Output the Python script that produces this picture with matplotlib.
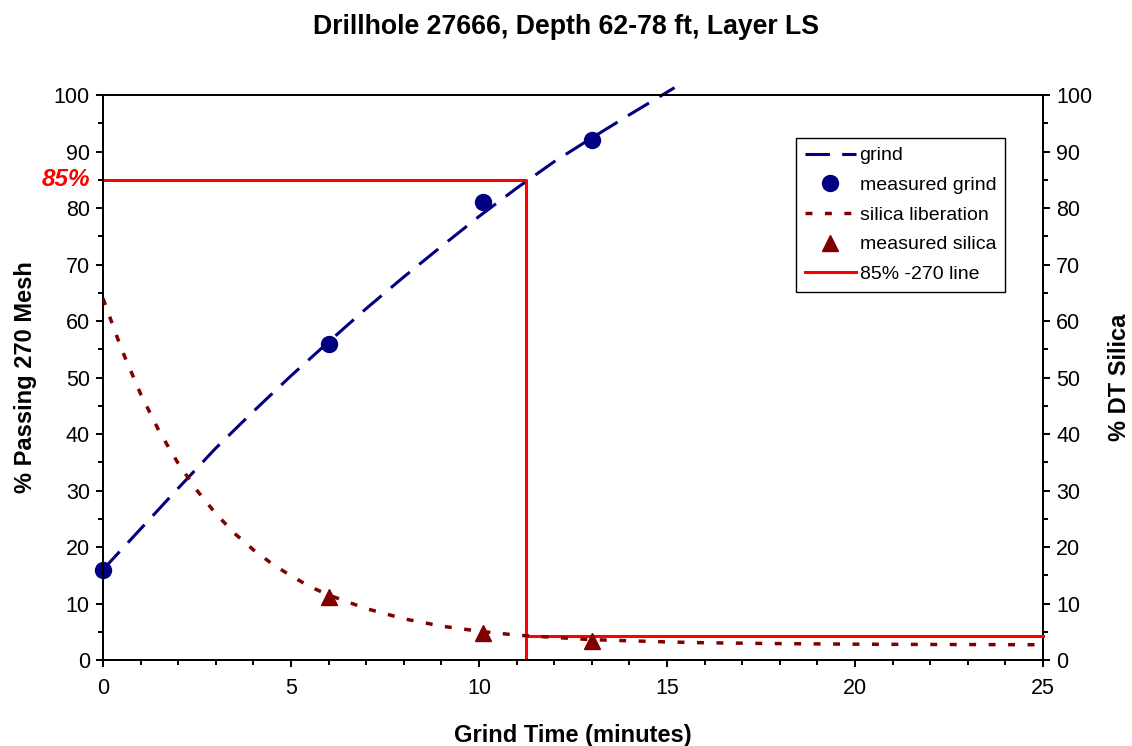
import matplotlib
matplotlib.use("Agg")
import matplotlib.pyplot as plt
from matplotlib.ticker import MultipleLocator

plt.rcParams['font.family'] = ['Liberation Sans', 'DejaVu Sans']

# ---- data ----
grind_x = [0, 1, 2, 3, 4, 5, 6, 7, 8, 9, 10, 11, 12, 13, 14, 15, 15.2]
grind_y = [16, 23.2, 30.4, 37.5, 44, 50.3, 56.3, 62.2, 67.8, 73.2, 78.5, 83.5, 88.2, 92.4, 96.5, 100.5, 101.3]
meas_grind_x = [0, 6, 10.1, 13]
meas_grind_y = [16, 56, 81, 92]

silica_x = [0, 0.5, 1, 1.5, 2, 2.5, 3, 3.5, 4, 4.5, 5, 5.5, 6, 7, 8, 9, 10, 11, 12, 13, 14, 15, 16, 18, 20, 22, 25]
silica_y = [64, 54.9, 47.1, 40.4, 34.8, 30.0, 25.9, 22.4, 19.5, 17.0, 14.9, 13.0, 11.5, 9.1, 7.3, 6.0, 5.1, 4.4, 4.0, 3.6, 3.4, 3.2, 3.05, 2.9, 2.8, 2.75, 2.7]
meas_silica_x = [6, 10.1, 13]
meas_silica_y = [11.2, 4.8, 3.4]

target_pct = 85
target_time = 11.25
target_silica = 4.2
x_max = 25

title = "Drillhole 27666, Depth 62-78 ft, Layer LS"
xlabel = "Grind Time (minutes)"
ylabel_left = "% Passing 270 Mesh"
ylabel_right = "% DT Silica"
labels = ["grind", "measured grind", "silica liberation", "measured silica", "85% -270 line"]

NAVY = "#000080"
DRED = "#800000"
RED = "#FF0000"

fig = plt.figure(figsize=(11.32, 7.46), dpi=100)
ax = fig.add_axes([103/1132, 86/746, 940/1132, 565/746])
ax2 = ax.twinx()

# grind
l1, = ax.plot(grind_x, grind_y, color=NAVY, lw=2.2, linestyle=(0, (8, 4)), clip_on=False, zorder=3)
l2, = ax.plot(meas_grind_x, meas_grind_y, 'o', color=NAVY, ms=11.5, clip_on=False, zorder=4)

# 85% line
l5, = ax.plot([0, target_time, target_time], [target_pct, target_pct, 0], color=RED, lw=2.2, zorder=3)
ax2.plot([target_time, x_max], [target_silica, target_silica], color=RED, lw=2.2, zorder=3, clip_on=False)

# silica
l3, = ax2.plot(silica_x, silica_y, color=DRED, lw=2.5, linestyle=(0, (2, 3.6)), zorder=3)
l4, = ax2.plot(meas_silica_x, meas_silica_y, '^', color=DRED, ms=11, zorder=4)

for a in (ax, ax2):
    a.set_xlim(0, x_max)
    a.set_ylim(0, 100)
    for s in a.spines.values():
        s.set_linewidth(1.4)
        s.set_color('black')

ax.xaxis.set_major_locator(MultipleLocator(5))
ax.xaxis.set_minor_locator(MultipleLocator(1))
ax.yaxis.set_major_locator(MultipleLocator(10))
ax.yaxis.set_minor_locator(MultipleLocator(5))
ax2.yaxis.set_major_locator(MultipleLocator(10))
ax2.yaxis.set_minor_locator(MultipleLocator(5))

ax.tick_params(axis='both', which='major', direction='out', length=5, width=1.4, labelsize=15.5, pad=4.5)
ax.tick_params(axis='both', which='minor', direction='out', length=3.5, width=1.4)
ax.tick_params(axis='x', which='major', pad=8)
ax2.tick_params(axis='y', which='major', direction='out', length=5, width=1.4, labelsize=15.5, pad=4.5)
ax2.tick_params(axis='y', which='minor', direction='out', length=3.5, width=1.4)

ax.set_xlabel(xlabel, fontsize=17, fontweight='bold', labelpad=18)
ax.set_ylabel(ylabel_left, fontsize=17, fontweight='bold', labelpad=12)
ax2.set_ylabel(ylabel_right, fontsize=17, fontweight='bold', labelpad=11)

fig.text(0.5, 1 - 27/746, title, ha='center', va='center', fontsize=19.2, fontweight='bold')

# 85% label
ax.text(-0.33, target_pct, f"{target_pct}%", color=RED, fontsize=17.5, fontweight='bold', fontstyle='italic',
        ha='right', va='center', clip_on=False)

leg = ax2.legend([l1, l2, l3, l4, l5], labels, loc='upper right',
                 bbox_to_anchor=((1005-103)/940, (660-138)/565), borderaxespad=0,
                 fontsize=14, frameon=True, fancybox=False, framealpha=1, edgecolor='black',
                 handlelength=2.6, handletextpad=0.2, labelspacing=0.62, borderpad=0.45)
leg.get_frame().set_linewidth(1.0)

fig.savefig("out.png", dpi=100)
